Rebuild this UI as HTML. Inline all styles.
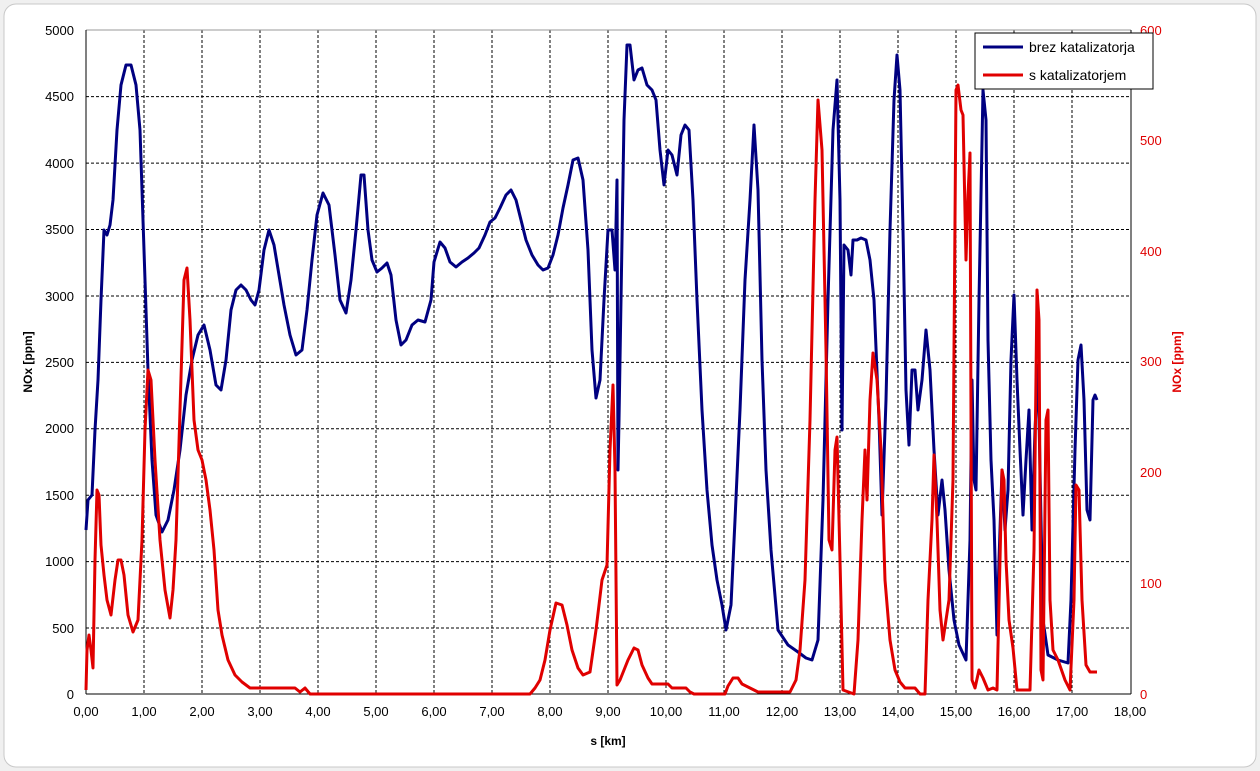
<!DOCTYPE html><html><head><meta charset="utf-8"><style>
body{margin:0;width:1260px;height:771px;background:#f0f0f0;overflow:hidden}
svg{display:block;font-family:"Liberation Sans",Arial,sans-serif}
</style></head><body>
<svg width="1260" height="771" viewBox="0 0 1260 771">
<rect x="4" y="4" width="1252" height="763" rx="12" fill="#fff" stroke="#c8c8c8"/>
<g stroke="#000" stroke-dasharray="3,2" stroke-width="1">
<line x1="144" y1="30" x2="144" y2="694"/><line x1="202" y1="30" x2="202" y2="694"/><line x1="260" y1="30" x2="260" y2="694"/><line x1="318" y1="30" x2="318" y2="694"/><line x1="376" y1="30" x2="376" y2="694"/><line x1="434" y1="30" x2="434" y2="694"/><line x1="492" y1="30" x2="492" y2="694"/><line x1="550" y1="30" x2="550" y2="694"/><line x1="608" y1="30" x2="608" y2="694"/><line x1="666" y1="30" x2="666" y2="694"/><line x1="724" y1="30" x2="724" y2="694"/><line x1="782" y1="30" x2="782" y2="694"/><line x1="840" y1="30" x2="840" y2="694"/><line x1="898" y1="30" x2="898" y2="694"/><line x1="956" y1="30" x2="956" y2="694"/><line x1="1014" y1="30" x2="1014" y2="694"/><line x1="1072" y1="30" x2="1072" y2="694"/>
<line x1="86" y1="96.6" x2="1131" y2="96.6"/><line x1="86" y1="163.1" x2="1131" y2="163.1"/><line x1="86" y1="229.5" x2="1131" y2="229.5"/><line x1="86" y1="296" x2="1131" y2="296"/><line x1="86" y1="362.4" x2="1131" y2="362.4"/><line x1="86" y1="428.8" x2="1131" y2="428.8"/><line x1="86" y1="495.2" x2="1131" y2="495.2"/><line x1="86" y1="561.6" x2="1131" y2="561.6"/><line x1="86" y1="628" x2="1131" y2="628"/>
</g>
<line x1="86" y1="30" x2="1131" y2="30" stroke="#999"/>
<line x1="86" y1="30" x2="86" y2="694" stroke="#000"/>
<line x1="1131" y1="30" x2="1131" y2="694" stroke="#000"/>
<line x1="86" y1="694" x2="1131" y2="694" stroke="#000"/>
<g font-size="13" text-anchor="end" fill="#000">
<text x="74" y="35">5000</text><text x="74" y="101">4500</text><text x="74" y="168">4000</text><text x="74" y="234">3500</text><text x="74" y="301">3000</text><text x="74" y="367">2500</text><text x="74" y="433">2000</text><text x="74" y="500">1500</text><text x="74" y="566">1000</text><text x="74" y="633">500</text><text x="74" y="699">0</text>
</g>
<g font-size="13" fill="#e00000">
<text x="1140" y="35">600</text><text x="1140" y="145">500</text><text x="1140" y="256">400</text><text x="1140" y="366">300</text><text x="1140" y="477">200</text><text x="1140" y="588">100</text><text x="1140" y="699">0</text>
</g>
<g font-size="13" text-anchor="middle">
<text x="86" y="716">0,00</text><text x="144" y="716">1,00</text><text x="202" y="716">2,00</text><text x="260" y="716">3,00</text><text x="318" y="716">4,00</text><text x="376" y="716">5,00</text><text x="434" y="716">6,00</text><text x="492" y="716">7,00</text><text x="550" y="716">8,00</text><text x="608" y="716">9,00</text><text x="666" y="716">10,00</text><text x="724" y="716">11,00</text><text x="782" y="716">12,00</text><text x="840" y="716">13,00</text><text x="898" y="716">14,00</text><text x="956" y="716">15,00</text><text x="1014" y="716">16,00</text><text x="1072" y="716">17,00</text><text x="1130" y="716">18,00</text>
</g>
<text x="608" y="745" font-size="12" font-weight="bold" text-anchor="middle">s [km]</text>
<text transform="translate(32,362) rotate(-90)" font-size="12" font-weight="bold" text-anchor="middle">NOx [ppm]</text>
<text transform="translate(1181,362) rotate(-90)" font-size="12" font-weight="bold" text-anchor="middle" fill="#e00000">NOx [ppm]</text>
<polyline fill="none" stroke="#000080" stroke-width="3" stroke-linejoin="round" points="86,530 88,500 92,495 95,430 98,380 101,300 104,230 107,235 110,225 113,200 117,130 121,85 126,65 131,65 136,85 140,130 144,250 148,370 152,460 156,515 162,532 168,520 174,490 180,450 186,395 192,360 198,335 204,325 210,350 216,385 221,390 226,360 231,310 236,290 241,285 246,290 251,300 255,305 259,290 264,250 269,230 274,245 279,275 284,305 290,335 296,355 302,350 307,310 312,260 317,215 323,193 329,205 335,255 340,300 346,313 351,280 356,230 361,175 364,175 368,230 372,260 377,272 382,268 387,263 391,275 396,320 401,345 406,340 412,325 418,320 425,322 431,300 434,262 440,242 445,248 450,262 456,267 462,262 468,258 474,253 479,248 485,235 490,222 495,218 500,208 506,195 511,190 516,200 521,220 526,240 532,255 538,265 543,270 548,268 553,255 558,235 563,208 568,185 573,160 578,158 583,180 588,250 592,350 596,398 600,380 604,300 608,230 612,230 615,270 617,180 618,470 619,420 621,300 624,120 627,45 630,45 634,80 638,70 642,68 647,85 652,90 656,100 660,150 664,185 668,150 672,155 677,175 681,135 685,125 689,130 693,200 697,300 702,410 707,490 712,545 717,580 722,605 726,630 731,605 735,520 740,410 745,280 750,200 754,125 758,190 762,360 766,470 771,550 778,630 788,645 798,652 806,658 812,660 818,640 823,500 828,300 833,130 837,80 840,200 842,430 844,245 848,250 851,275 853,240 857,240 861,238 866,240 870,260 874,300 879,420 882,515 886,400 890,230 894,100 897,55 900,90 903,230 906,390 909,445 912,370 915,370 918,410 922,380 926,330 930,370 934,450 938,515 942,480 945,510 949,570 954,620 959,645 966,660 970,540 972,380 974,480 976,490 979,300 983,90 986,120 988,340 991,460 994,520 997,635 999,560 1002,470 1005,530 1008,490 1011,360 1014,295 1017,380 1020,450 1023,515 1026,460 1029,410 1032,530 1035,430 1038,365 1040,470 1043,620 1048,655 1058,660 1068,663 1071,600 1075,450 1078,360 1081,345 1084,400 1087,510 1090,520 1093,400 1095,395 1097,400"/>
<polyline fill="none" stroke="#e00000" stroke-width="3" stroke-linejoin="round" points="86,690 87,650 89,635 91,650 93,668 95,560 97,490 99,495 101,545 104,575 107,600 111,615 115,580 118,560 121,560 124,575 128,615 133,632 138,620 142,540 145,430 148,370 151,380 155,460 160,540 165,590 170,618 173,590 176,540 180,410 184,280 187,268 190,320 194,420 198,450 202,460 206,480 210,510 214,550 218,610 222,635 228,660 235,675 242,682 250,688 270,688 295,688 300,692 305,688 310,694 530,694 535,688 540,680 545,660 550,630 556,603 562,605 567,625 572,650 578,668 583,675 590,672 596,630 602,580 607,565 610,450 613,385 615,470 617,685 620,680 624,670 628,660 634,648 638,650 642,665 648,678 652,684 660,684 668,684 672,688 686,688 690,692 694,694 725,694 728,686 733,678 738,678 742,684 750,688 758,692 790,692 796,680 800,650 805,580 810,420 815,200 818,100 822,150 826,350 829,540 832,550 835,450 837,437 840,560 843,690 854,694 858,640 862,520 865,450 867,500 870,400 873,353 877,380 881,450 885,580 890,640 895,670 900,682 905,688 915,688 920,694 925,694 928,600 932,520 934,455 937,520 940,610 943,640 946,620 949,600 953,480 956,90 958,85 961,110 963,115 966,260 968,195 970,153 972,680 975,688 979,670 983,678 988,690 993,688 997,690 1000,560 1002,470 1004,480 1006,560 1009,620 1013,648 1017,690 1025,690 1030,690 1034,550 1037,290 1039,320 1041,670 1043,680 1046,420 1048,410 1050,600 1053,650 1058,660 1065,680 1070,690 1074,600 1076,485 1079,490 1082,600 1086,665 1090,672 1097,672"/>
<rect x="975" y="33" width="178" height="56" fill="#fff" stroke="#000"/>
<line x1="983" y1="47" x2="1023" y2="47" stroke="#000080" stroke-width="3"/>
<line x1="983" y1="75" x2="1023" y2="75" stroke="#e00000" stroke-width="3"/>
<text x="1029" y="52" font-size="14">brez katalizatorja</text>
<text x="1029" y="80" font-size="14">s katalizatorjem</text>
</svg>
</body></html>
